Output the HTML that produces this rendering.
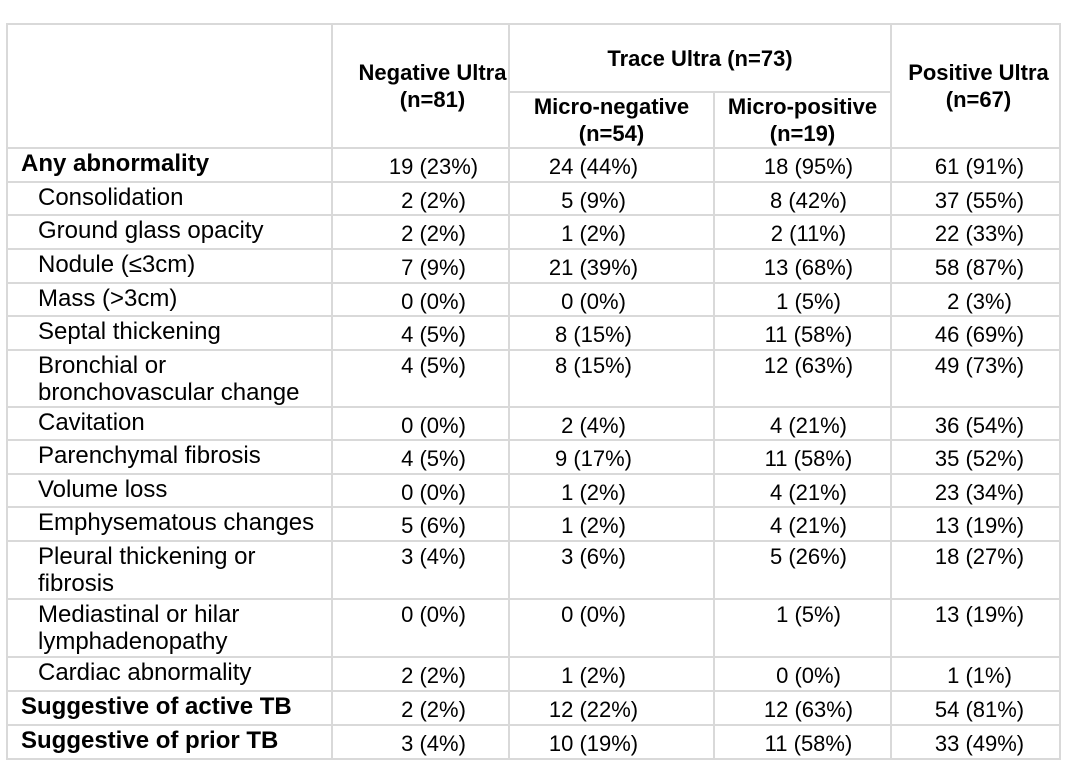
<!DOCTYPE html>
<html><head><meta charset="utf-8"><style>
html,body{margin:0;padding:0;background:#fff;width:1080px;height:770px;overflow:hidden}
table{position:absolute;left:6px;top:23px;border-collapse:collapse;table-layout:fixed;font-family:"Liberation Sans",Arial,sans-serif;color:#000}
td{border:2px solid #d9d9d9;padding:0;font-size:22px;line-height:27px;vertical-align:top;padding-top:4px;text-align:center;white-space:nowrap;overflow:hidden}
td.l{text-align:left;padding-left:30px;font-size:24px;padding-top:1px}
td.b{text-align:left;padding-left:13px;font-weight:bold;font-size:24px;padding-top:1px}
tr.d td{line-height:27px;padding-top:1px}
td:nth-child(2){padding-left:26px}
td:nth-child(3){padding-right:36px}
td:nth-child(4){padding-left:12px}
td:nth-child(5){padding-left:8px}
th{border:2px solid #d9d9d9;font-size:22px;line-height:27px;font-weight:bold;vertical-align:middle;padding:0}
</style></head><body>
<table>
<colgroup><col style="width:325px"><col style="width:177px"><col style="width:205px"><col style="width:177px"><col style="width:169px"></colgroup>
<tr style="height:68px"><th rowspan="2"></th><th rowspan="2" style="padding-left:24px">Negative Ultra<br>(n=81)</th><th colspan="2" style="vertical-align:top;padding-top:20px">Trace Ultra (n=73)</th><th rowspan="2" style="padding-left:6px">Positive Ultra<br>(n=67)</th></tr>
<tr style="height:56px"><th>Micro-negative<br>(n=54)</th><th>Micro-positive<br>(n=19)</th></tr>
<tr style="height:34px"><td class="b">Any abnormality</td><td>19 (23%)</td><td>24 (44%)</td><td>18 (95%)</td><td>61 (91%)</td></tr>
<tr style="height:33px"><td class="l">Consolidation</td><td>2 (2%)</td><td>5 (9%)</td><td>8 (42%)</td><td>37 (55%)</td></tr>
<tr style="height:34px"><td class="l">Ground glass opacity</td><td>2 (2%)</td><td>1 (2%)</td><td>2 (11%)</td><td>22 (33%)</td></tr>
<tr style="height:34px"><td class="l">Nodule (≤3cm)</td><td>7 (9%)</td><td>21 (39%)</td><td>13 (68%)</td><td>58 (87%)</td></tr>
<tr style="height:33px"><td class="l">Mass (&gt;3cm)</td><td>0 (0%)</td><td>0 (0%)</td><td>1 (5%)</td><td>2 (3%)</td></tr>
<tr style="height:34px"><td class="l">Septal thickening</td><td>4 (5%)</td><td>8 (15%)</td><td>11 (58%)</td><td>46 (69%)</td></tr>
<tr class="d" style="height:57px"><td class="l">Bronchial or<br>bronchovascular change</td><td>4 (5%)</td><td>8 (15%)</td><td>12 (63%)</td><td>49 (73%)</td></tr>
<tr style="height:33px"><td class="l">Cavitation</td><td>0 (0%)</td><td>2 (4%)</td><td>4 (21%)</td><td>36 (54%)</td></tr>
<tr style="height:34px"><td class="l">Parenchymal fibrosis</td><td>4 (5%)</td><td>9 (17%)</td><td>11 (58%)</td><td>35 (52%)</td></tr>
<tr style="height:33px"><td class="l">Volume loss</td><td>0 (0%)</td><td>1 (2%)</td><td>4 (21%)</td><td>23 (34%)</td></tr>
<tr style="height:34px"><td class="l">Emphysematous changes</td><td>5 (6%)</td><td>1 (2%)</td><td>4 (21%)</td><td>13 (19%)</td></tr>
<tr class="d" style="height:58px"><td class="l">Pleural thickening or<br>fibrosis</td><td>3 (4%)</td><td>3 (6%)</td><td>5 (26%)</td><td>18 (27%)</td></tr>
<tr class="d" style="height:58px"><td class="l">Mediastinal or hilar<br>lymphadenopathy</td><td>0 (0%)</td><td>0 (0%)</td><td>1 (5%)</td><td>13 (19%)</td></tr>
<tr style="height:34px"><td class="l">Cardiac abnormality</td><td>2 (2%)</td><td>1 (2%)</td><td>0 (0%)</td><td>1 (1%)</td></tr>
<tr style="height:34px"><td class="b">Suggestive of active TB</td><td>2 (2%)</td><td>12 (22%)</td><td>12 (63%)</td><td>54 (81%)</td></tr>
<tr style="height:34px"><td class="b">Suggestive of prior TB</td><td>3 (4%)</td><td>10 (19%)</td><td>11 (58%)</td><td>33 (49%)</td></tr>
</table>
</body></html>
